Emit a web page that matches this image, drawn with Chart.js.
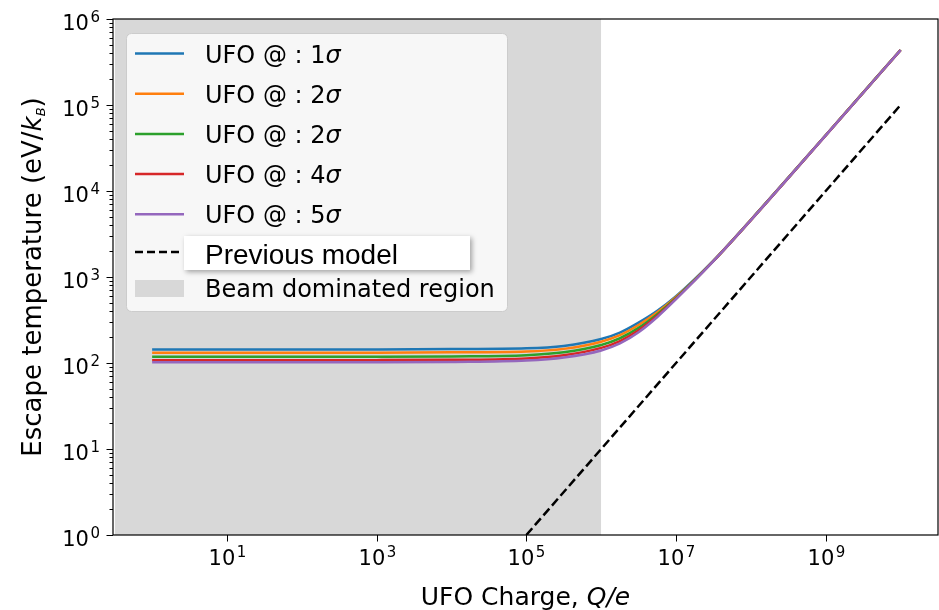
<!DOCTYPE html>
<html>
<head>
<meta charset="utf-8">
<script src="https://cdn.jsdelivr.net/npm/chart.js@4.4.0/dist/chart.umd.min.js"></script>
<style>
  body { margin: 0; background: #fff; }
  #wrap { width: 939px; height: 610px; }
</style>
</head>
<body>
<div id="wrap"><canvas id="myChart"></canvas></div>
<script>
// UFO charge Q/e where the curves are sampled
const charges = [1, 10, 100, 1e3, 1e4, 1e5, 3.16e5, 1e6, 1.78e6, 3.16e6, 5.62e6, 1e7, 3.16e7, 1e8, 1e9, 1e10];
// escape temperature (eV/kB) for each UFO position
const temp1s = [144, 144, 144, 144, 145, 148, 158, 190, 226, 295, 405, 598, 1550, 4630, 44500, 436000];
const temp2s = [132, 132, 132, 132, 133, 136, 146, 177, 211, 277, 389, 585, 1545, 4620, 44500, 436000];
const temp3s = [118, 118, 118, 118, 119, 123, 133, 162, 194, 256, 369, 571, 1540, 4605, 44500, 436000];
const temp4s = [108, 108, 108, 108, 109, 113, 123, 150, 180, 240, 354, 560, 1535, 4590, 44400, 435000];
const temp5s = [102, 102, 102, 102, 103, 107, 116, 140, 169, 228, 343, 552, 1530, 4580, 44400, 435000];
const seriesTemps = [temp1s, temp2s, temp3s, temp4s, temp5s];
const seriesSigma = ['1', '2', '2', '4', '5'];
const seriesColors = ['#1f77b4', '#ff7f0e', '#2ca02c', '#d62728', '#9467bd'];

// previous model, straight line in log-log
const prevCharge = [1e5, 1e10];
const prevTemp = [1, 1e5];

// beam dominated region ends here
const beamEdge = 1e6;

const xTickExps = [1, 3, 5, 7, 9];
const yTickExps = [0, 1, 2, 3, 4, 5, 6];
const xMin = Math.pow(10, -0.5), xMax = Math.pow(10, 10.5);
const yMin = 1, yMax = 1e6;

const SPAN_GREY = '#d8d8d8';
const FONT = '"DejaVu Sans", sans-serif';

function pts(xs, ys) {
  return xs.map((v, i) => ({ x: v, y: ys[i] }));
}

const datasets = seriesTemps.map((t, i) => ({
  label: 'UFO @ : ' + seriesSigma[i] + 'σ',
  data: pts(charges, t),
  borderColor: seriesColors[i],
  borderWidth: 2.5,
  pointRadius: 0,
  fill: false,
  cubicInterpolationMode: 'monotone',
  order: 5 - i
}));

datasets.push({
  label: 'Previous model',
  data: pts(prevCharge, prevTemp),
  borderColor: '#000',
  borderWidth: 2.5,
  borderDash: [9, 4],
  pointRadius: 0,
  fill: false,
  tension: 0,
  order: 8
});

datasets.push({
  label: 'Beam dominated region',
  data: pts([xMin, beamEdge], [yMax, yMax]),
  borderWidth: 0,
  borderColor: 'rgba(0,0,0,0)',
  backgroundColor: SPAN_GREY,
  pointRadius: 0,
  fill: 'start',
  tension: 0,
  order: 10
});

function line(ctx, x1, y1, x2, y2) {
  ctx.beginPath();
  ctx.moveTo(x1, y1);
  ctx.lineTo(x2, y2);
  ctx.stroke();
}

// "10" with a raised exponent; anchor is 'center' or 'right'
function drawPow(ctx, px, baseY, exp, anchor) {
  ctx.font = '21px ' + FONT;
  const wBase = ctx.measureText('10').width;
  ctx.font = '15px ' + FONT;
  const wSup = ctx.measureText(String(exp)).width;
  const total = wBase + 1.5 + wSup;
  const x0 = anchor === 'center' ? px - total / 2 : px - total;
  ctx.textAlign = 'left';
  ctx.textBaseline = 'alphabetic';
  ctx.font = '21px ' + FONT;
  ctx.fillText('10', x0, baseY);
  ctx.font = '15px ' + FONT;
  ctx.fillText(String(exp), x0 + wBase + 1.5, baseY - 8);
}

// pieces of text with their own fonts, drawn one after another
function drawRuns(ctx, runs, x, y, align) {
  let total = 0;
  runs.forEach(r => { ctx.font = r.font; r.w = ctx.measureText(r.text).width; total += r.w; });
  let cx = align === 'center' ? x - total / 2 : x;
  ctx.textAlign = 'left';
  ctx.textBaseline = 'alphabetic';
  runs.forEach(r => {
    ctx.font = r.font;
    ctx.fillText(r.text, cx, y + (r.dy || 0));
    cx += r.w;
  });
}

const decor = {
  id: 'decor',
  afterDraw(chart) {
    const { ctx, chartArea: a, scales: { x, y } } = chart;
    ctx.save();
    ctx.fillStyle = '#000';
    ctx.strokeStyle = '#000';

    // frame
    ctx.lineWidth = 1.2;
    ctx.strokeRect(a.left, a.top, a.right - a.left, a.bottom - a.top);

    // x ticks
    ctx.lineWidth = 1;
    xTickExps.forEach(e => {
      const px = Math.round(x.getPixelForValue(Math.pow(10, e))) + 0.5;
      line(ctx, px, a.bottom, px, a.bottom + 6.5);
      drawPow(ctx, px, a.bottom + 30, e, 'center');
    });

    // y ticks, major and minor
    yTickExps.forEach(e => {
      const py = Math.round(y.getPixelForValue(Math.pow(10, e))) + 0.5;
      line(ctx, a.left - 6.5, py, a.left, py);
      drawPow(ctx, a.left - 13, py + 10, e, 'right');
      if (e < yTickExps[yTickExps.length - 1]) {
        for (let m = 2; m <= 9; m++) {
          const my = Math.round(y.getPixelForValue(m * Math.pow(10, e))) + 0.5;
          line(ctx, a.left - 3.5, my, a.left, my);
        }
      }
    });

    // axis titles
    drawRuns(ctx, [
      { text: 'UFO Charge, ', font: '25px ' + FONT },
      { text: 'Q/e', font: 'italic 25px ' + FONT }
    ], (a.left + a.right) / 2, 605, 'center');

    ctx.save();
    ctx.translate(41, (a.top + a.bottom) / 2);
    ctx.rotate(-Math.PI / 2);
    drawRuns(ctx, [
      { text: 'Escape temperature (eV/', font: '26px ' + FONT },
      { text: 'k', font: 'italic 26px ' + FONT },
      { text: 'B', font: 'italic 13px ' + FONT, dy: 4 },
      { text: ')', font: '26px ' + FONT }
    ], 0, 0, 'center');
    ctx.restore();

    // legend box
    ctx.beginPath();
    ctx.roundRect(126.5, 33.5, 381, 278, 5);
    ctx.fillStyle = 'rgba(255,255,255,0.8)';
    ctx.fill();
    ctx.strokeStyle = '#cccccc';
    ctx.lineWidth = 1;
    ctx.stroke();

    const rowY = [53.5, 93.7, 133.9, 174.1, 214.3];
    seriesColors.forEach((c, i) => {
      ctx.strokeStyle = c;
      ctx.lineWidth = 2.5;
      line(ctx, 135, rowY[i], 184, rowY[i]);
      ctx.fillStyle = '#000';
      drawRuns(ctx, [
        { text: 'UFO @ : ' + seriesSigma[i], font: '24px ' + FONT },
        { text: 'σ', font: 'italic 24px ' + FONT }
      ], 205, rowY[i] + 9, 'left');
    });

    // previous model entry
    ctx.strokeStyle = '#000';
    ctx.lineWidth = 2.5;
    ctx.setLineDash([8, 4]);
    line(ctx, 135, 252, 182, 252);
    ctx.setLineDash([]);

    ctx.save();
    ctx.shadowColor = 'rgba(0,0,0,0.35)';
    ctx.shadowBlur = 5;
    ctx.shadowOffsetX = 2;
    ctx.shadowOffsetY = 2;
    ctx.fillStyle = '#fff';
    ctx.fillRect(184, 236, 286, 34);
    ctx.restore();
    ctx.fillStyle = '#000';
    drawRuns(ctx, [{ text: 'Previous model', font: '28px "Liberation Sans", Arial, sans-serif' }], 205, 263.5, 'left');

    // beam region entry
    ctx.fillStyle = SPAN_GREY;
    ctx.fillRect(135, 280, 49, 17);
    ctx.fillStyle = '#000';
    drawRuns(ctx, [{ text: 'Beam dominated region', font: '24px ' + FONT }], 205, 297, 'left');

    ctx.restore();
  }
};

const ctx = document.getElementById('myChart').getContext('2d');
new Chart(ctx, {
  type: 'line',
  data: { datasets: datasets },
  options: {
    responsive: true,
    maintainAspectRatio: false,
    animation: false,
    layout: { padding: { top: 19, right: 1, left: 0, bottom: 0 } },
    plugins: { legend: { display: false }, tooltip: { enabled: false } },
    scales: {
      x: {
        type: 'logarithmic',
        min: xMin,
        max: xMax,
        grid: { display: false },
        border: { display: false },
        ticks: { display: false },
        afterFit: s => { s.height = 75; }
      },
      y: {
        type: 'logarithmic',
        min: yMin,
        max: yMax,
        grid: { display: false },
        border: { display: false },
        ticks: { display: false },
        afterFit: s => { s.width = 113; }
      }
    }
  },
  plugins: [decor]
});
</script>
</body>
</html>
